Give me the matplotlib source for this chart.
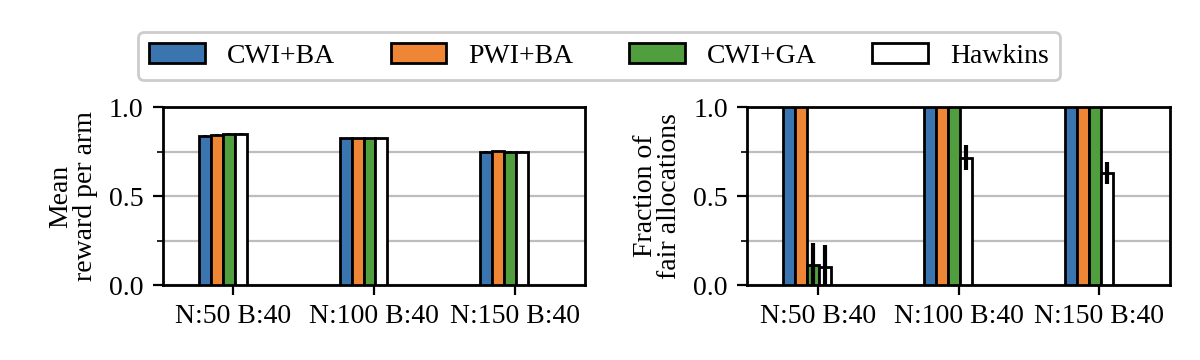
import numpy as np
import matplotlib
matplotlib.use("Agg")
import matplotlib.pyplot as plt
from matplotlib.ticker import MultipleLocator

plt.rcParams['font.family'] = ['Liberation Serif', 'DejaVu Serif']
plt.rcParams['font.size'] = 10

categories = ["N:50 B:40", "N:100 B:40", "N:150 B:40"]
methods = ["CWI+BA", "PWI+BA", "CWI+GA", "Hawkins"]
colors = ["#3b75af", "#ef8636", "#519e3e", "#ffffff"]

reward_mean = {
    "CWI+BA": [0.840, 0.829, 0.750],
    "PWI+BA": [0.844, 0.829, 0.752],
    "CWI+GA": [0.850, 0.829, 0.751],
    "Hawkins": [0.852, 0.829, 0.751],
}
reward_err = {
    "CWI+BA": [0.006, 0.001, 0.003],
    "PWI+BA": [0.006, 0.001, 0.003],
    "CWI+GA": [0.006, 0.001, 0.003],
    "Hawkins": [0.006, 0.001, 0.003],
}
fair_mean = {
    "CWI+BA": [1.0, 1.0, 1.0],
    "PWI+BA": [1.0, 1.0, 1.0],
    "CWI+GA": [0.11, 1.0, 1.0],
    "Hawkins": [0.10, 0.717, 0.63],
}
fair_err = {
    "CWI+BA": [0.0, 0.0, 0.0],
    "PWI+BA": [0.0, 0.0, 0.0],
    "CWI+GA": [0.125, 0.0, 0.0],
    "Hawkins": [0.125, 0.07, 0.06],
}

fig = plt.figure(figsize=(6, 1.8), dpi=200)
ax1 = fig.add_axes([0.1356, 0.2083, 0.352, 0.4936])
ax2 = fig.add_axes([0.6228, 0.2083, 0.352, 0.4936])

x = np.arange(len(categories))
w = 0.085
start = -0.244

def draw(ax, means, errs, ylabel):
    handles = []
    for i, m in enumerate(methods):
        pos = x + start + w * (i + 0.5)
        b = ax.bar(pos, means[m], width=w, color=colors[i], edgecolor='black',
                   linewidth=1.0, label=m, zorder=3)
        ax.errorbar(pos, means[m], yerr=errs[m], fmt='none', ecolor='black',
                    elinewidth=1.5, capsize=0, zorder=4)
        handles.append(b)
    ax.set_xlim(-0.5, 2.5)
    ax.set_ylim(0, 1.0)
    ax.set_xticks(x)
    ax.set_xticklabels(categories)
    ax.yaxis.set_major_locator(MultipleLocator(0.5))
    ax.yaxis.set_minor_locator(MultipleLocator(0.25))
    ax.grid(axis='y', which='both', color='#bdbdbd', linewidth=0.8, zorder=0)
    ax.set_axisbelow(True)
    for s in ax.spines.values():
        s.set_linewidth(1.0)
    ax.set_ylabel(ylabel, linespacing=0.95)
    return handles

h = draw(ax1, reward_mean, reward_err, "Mean\nreward per arm")
draw(ax2, fair_mean, fair_err, "Fraction of\nfair allocations")

fig.legend(h, methods, loc='center', bbox_to_anchor=(0.499, 0.844), ncol=4,
           fancybox=True, framealpha=1.0, edgecolor='#cccccc')

fig.savefig("out.png", dpi=200)
